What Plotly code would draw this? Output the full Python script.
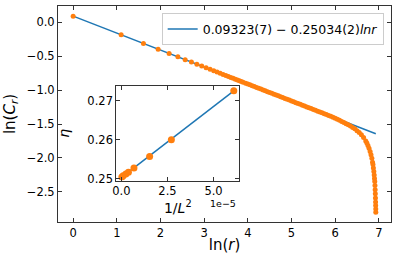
import plotly.graph_objects as go

# ---- main panel data (ln r, ln C_r) ----
ln_r = [0.0, 1.0986, 1.6094, 1.9459, 2.1972, 2.3979, 2.5649, 2.7081, 2.8332, 2.9444,
        3.0445, 3.1355, 3.2189, 3.2958, 3.3673, 3.4340, 3.4965, 3.5553, 3.6109, 3.6636,
        3.7136, 3.7612, 3.8067, 3.8501, 3.8918,
        3.95, 4.00, 4.05, 4.10, 4.15, 4.20, 4.25, 4.30, 4.35, 4.40, 4.45, 4.50, 4.55, 4.60,
        4.65, 4.70, 4.75, 4.80, 4.85, 4.90, 4.95, 5.00, 5.05, 5.10, 5.15, 5.20, 5.25, 5.30,
        5.35, 5.40, 5.45, 5.50, 5.55, 5.60, 5.65, 5.70, 5.75, 5.80, 5.85, 5.90, 5.95, 6.00,
        6.05, 6.10, 6.15, 6.20, 6.25, 6.30, 6.35, 6.40, 6.45, 6.50, 6.55, 6.60, 6.65, 6.70,
        6.725, 6.75, 6.775, 6.80,
        6.82, 6.84, 6.855, 6.865, 6.875, 6.885, 6.893, 6.900, 6.906, 6.911, 6.915, 6.919,
        6.922, 6.925, 6.927, 6.929, 6.930]
ln_C = [0.0932, -0.1818, -0.3097, -0.3939, -0.4568, -0.5071, -0.5489, -0.5847, -0.6160, -0.6439,
        -0.6689, -0.6917, -0.7126, -0.7318, -0.7497, -0.7664, -0.7821, -0.7968, -0.8107, -0.8239,
        -0.8364, -0.8483, -0.8597, -0.8706, -0.8810,
        -0.8956, -0.9081, -0.9206, -0.9331, -0.9457, -0.9582, -0.9707, -0.9832, -0.9957, -1.0083,
        -1.0208, -1.0333, -1.0458, -1.0584, -1.0709, -1.0834, -1.0959, -1.1084, -1.1209, -1.1334,
        -1.1460, -1.1585, -1.1710, -1.1835, -1.1960, -1.2086, -1.2210, -1.2336, -1.2461, -1.2586,
        -1.2711, -1.2836, -1.2962, -1.3087, -1.3212, -1.3337, -1.3462, -1.3587, -1.3722, -1.3858,
        -1.4003, -1.4148, -1.4293, -1.4448, -1.4603, -1.4769, -1.4934, -1.5109, -1.5294, -1.5490,
        -1.5705, -1.5970, -1.6235, -1.6590, -1.6995, -1.7481,
        -1.7800, -1.8166, -1.8580, -1.9061,
        -1.9511, -2.0041, -2.0629, -2.0954, -2.1479, -2.2004, -2.2524, -2.3041, -2.3456, -2.4069,
        -2.4679, -2.5289, -2.5896, -2.6504, -2.7009, -2.7514, -2.8016]

fit_x = [0.0, 6.93]
fit_y = [0.0932, -1.6416]
fit_label = "0.09323(7) \u2212 0.25034(2)<i>lnr</i>"

# ---- inset data (1/L^2 in units of 1e-5, eta) ----
inv_L2 = [0.024, 0.095, 0.24, 0.38, 0.68, 1.53, 2.71, 6.10]
eta = [0.2504, 0.2507, 0.2512, 0.2516, 0.2527, 0.2557, 0.2600, 0.2726]
eta_fit_x = [0.024, 6.10]
eta_fit_y = [0.2504, 0.2726]

x_ticks = [0, 1, 2, 3, 4, 5, 6, 7]
y_ticks = [0.0, -0.5, -1.0, -1.5, -2.0, -2.5]
ix_ticks = [0.0, 2.5, 5.0]
iy_ticks = [0.25, 0.26, 0.27]

BLUE = "#1f77b4"
ORANGE = "#ff7f0e"
FONT = "DejaVu Sans"
AX = "#333333"

fig = go.Figure()
fig.add_trace(go.Scatter(x=fit_x, y=fit_y, mode="lines", name=fit_label,
                         line=dict(color=BLUE, width=1.5), xaxis="x", yaxis="y"))
fig.add_trace(go.Scatter(x=ln_r, y=ln_C, mode="markers", showlegend=False,
                         marker=dict(color=ORANGE, size=5, line=dict(width=0)),
                         xaxis="x", yaxis="y"))
fig.add_trace(go.Scatter(x=eta_fit_x, y=eta_fit_y, mode="lines", showlegend=False,
                         line=dict(color=BLUE, width=1.5), xaxis="x2", yaxis="y2"))
fig.add_trace(go.Scatter(x=inv_L2, y=eta, mode="markers", showlegend=False,
                         marker=dict(color=ORANGE, size=7, line=dict(width=0)),
                         xaxis="x2", yaxis="y2"))

common = dict(showline=True, linecolor=AX, linewidth=1, mirror="ticks", ticks="inside",
              ticklen=4, tickcolor=AX, tickwidth=1, showgrid=False, zeroline=False)

fig.update_layout(
    width=399, height=263, autosize=False,
    margin=dict(l=58, r=8, t=6, b=41),
    paper_bgcolor="white", plot_bgcolor="white",
    font=dict(family=FONT, color="black", size=11.5),
    xaxis=dict(domain=[0, 1], range=[-0.347, 7.278], tickmode="array", tickvals=x_ticks,
               title=dict(text="ln(<i>r</i>)", font=dict(size=15), standoff=0),
               anchor="y", **common),
    yaxis=dict(domain=[0, 1], range=[-2.945, 0.243], tickmode="array", tickvals=y_ticks,
               tickformat=".1f",
               title=dict(text="ln(<i>C<sub>r</sub></i>)", font=dict(size=15), standoff=7),
               anchor="x", **common),
    xaxis2=dict(domain=[0.175, 0.5445], range=[-0.28, 6.40], tickmode="array",
                tickvals=ix_ticks, tickformat=".1f",
                title=dict(text="1/<i>L</i><sup>2</sup>", font=dict(size=14), standoff=0),
                anchor="y2", **common),
    yaxis2=dict(domain=[0.192, 0.629], range=[0.2495, 0.2738], tickmode="array",
                tickvals=iy_ticks, tickformat=".2f",
                title=dict(text="<i>η</i>", font=dict(size=14), standoff=14),
                anchor="x2", **common),
    legend=dict(x=0.978, y=0.966, xanchor="right", yanchor="top",
                bgcolor="rgba(255,255,255,0.8)", bordercolor="#cccccc", borderwidth=1,
                font=dict(size=12.5), itemwidth=30),
    annotations=[dict(text="1e\u22125", xref="paper", yref="paper", x=0.4955, y=0.087,
                      showarrow=False, font=dict(size=9.5), xanchor="center", yanchor="middle")],
)

fig.write_html("out.html", config={"displayModeBar": False},
               post_script="document.body.style.margin='0';document.body.style.overflow='hidden';")
